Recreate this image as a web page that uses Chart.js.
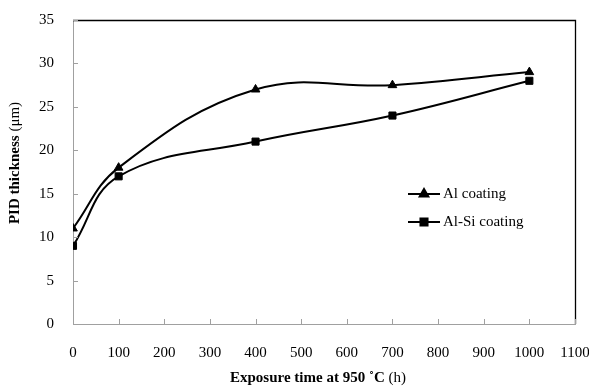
<!DOCTYPE html>
<html>
<head>
<meta charset="utf-8">
<script src="https://cdn.jsdelivr.net/npm/chart.js@4"></script>
<style>
  body { margin: 0; background: #fff; }
</style>
</head>
<body>
<canvas id="myChart" width="589" height="389"></canvas>
<script>
// exposure time (h)
var hours = [0, 100, 400, 700, 1000];
// PID thickness (um)
var alCoating = [11, 18, 27, 27.5, 29];
var alSiCoating = [9, 17, 21, 24, 28];
var seriesNames = ['Al coating', 'Al-Si coating'];
var xTicks = [0, 100, 200, 300, 400, 500, 600, 700, 800, 900, 1000, 1100];
var yTicks = [0, 5, 10, 15, 20, 25, 30, 35];

var serif = "'Liberation Serif', 'Times New Roman', serif";

function toPoints(vals) {
    return hours.map(function (h, i) { return { x: h, y: vals[i] }; });
}

// frame, inner tick marks, axis titles and legend
var extras = {
    id: 'extras',
    afterDraw: function (chart) {
        var c = chart.ctx, a = chart.chartArea;
        var xs = chart.scales.x, ys = chart.scales.y;
        c.save();
        c.strokeStyle = '#000';
        c.lineWidth = 1.3;
        c.beginPath();
        c.moveTo(a.left, a.top + 0.5);
        c.lineTo(a.right + 0.5, a.top + 0.5);
        c.lineTo(a.right + 0.5, a.bottom);
        c.stroke();

        c.strokeStyle = '#a0a0a0';
        c.lineWidth = 1;
        c.beginPath();
        xTicks.forEach(function (t) {
            var px = Math.round(xs.getPixelForValue(t)) + 0.5;
            c.moveTo(px, a.bottom);
            c.lineTo(px, a.bottom - 5);
        });
        yTicks.forEach(function (t) {
            var py = Math.round(ys.getPixelForValue(t)) + 0.5;
            c.moveTo(a.left, py);
            c.lineTo(a.left + 5, py);
        });
        c.stroke();

        // x title
        c.fillStyle = '#000';
        c.textBaseline = 'middle';
        var b1 = 'Exposure time at 950 ˚C ', n1 = '(h)';
        c.font = 'bold 15px ' + serif;
        var w1 = c.measureText(b1).width;
        c.font = '15px ' + serif;
        var w2 = c.measureText(n1).width;
        var sx = 318 - (w1 + w2) / 2;
        c.textAlign = 'left';
        c.font = 'bold 15px ' + serif;
        c.fillText(b1, sx, 378);
        c.font = '15px ' + serif;
        c.fillText(n1, sx + w1, 378);

        // y title
        c.save();
        c.translate(15, 163);
        c.rotate(-Math.PI / 2);
        var b2 = 'PID thickness ', n2 = '(μm)';
        c.font = 'bold 15px ' + serif;
        var w3 = c.measureText(b2).width;
        c.font = '15px ' + serif;
        var w4 = c.measureText(n2).width;
        var sy = -(w3 + w4) / 2;
        c.font = 'bold 15px ' + serif;
        c.fillText(b2, sy, 0);
        c.font = '15px ' + serif;
        c.fillText(n2, sy + w3, 0);
        c.restore();

        // legend
        var rows = [194, 222];
        chart.data.datasets.forEach(function (ds, i) {
            var y = rows[i];
            c.strokeStyle = '#000';
            c.lineWidth = 2;
            c.beginPath();
            c.moveTo(408, y);
            c.lineTo(440, y);
            c.stroke();
            Chart.helpers.drawPoint(c, {
                pointStyle: ds.pointStyle,
                radius: ds.pointRadius,
                borderWidth: 1
            }, 424, y);
            c.fillStyle = '#000';
            c.font = '15px ' + serif;
            c.textAlign = 'left';
            c.fillText(ds.label, 443, y);
        });
        c.restore();
    }
};

var ctx = document.getElementById('myChart').getContext('2d');
var myChart = new Chart(ctx, {
    type: 'line',
    data: {
        datasets: [{
            label: seriesNames[0],
            data: toPoints(alCoating),
            borderColor: '#000',
            backgroundColor: '#000',
            borderWidth: 2,
            tension: 0.4,
            pointStyle: 'triangle',
            pointRadius: 5,
            pointBorderWidth: 1
        }, {
            label: seriesNames[1],
            data: toPoints(alSiCoating),
            borderColor: '#000',
            backgroundColor: '#000',
            borderWidth: 2,
            tension: 0.4,
            pointStyle: 'rect',
            pointRadius: 5,
            pointBorderWidth: 1
        }]
    },
    options: {
        responsive: false,
        animation: false,
        layout: { autoPadding: false, padding: { left: 0, right: 14, top: 20, bottom: 0 } },
        plugins: {
            legend: { display: false },
            tooltip: { enabled: false }
        },
        scales: {
            x: {
                type: 'linear',
                min: 0,
                max: 1100,
                afterFit: function (s) { s.height = 65; s.paddingLeft = 0; s.paddingRight = 0; },
                afterBuildTicks: function (s) {
                    s.ticks = xTicks.map(function (v) { return { value: v }; });
                },
                grid: { display: true, drawOnChartArea: false, drawTicks: false, color: '#a0a0a0' },
                border: { color: '#a0a0a0', width: 1 },
                ticks: {
                    padding: 20,
                    color: '#000',
                    maxRotation: 0,
                    autoSkip: false,
                    callback: function (v) { return String(v); },
                    font: { family: serif, size: 15 }
                }
            },
            y: {
                min: 0,
                max: 35,
                afterFit: function (s) { s.width = 73; s.paddingTop = 0; s.paddingBottom = 0; },
                afterBuildTicks: function (s) {
                    s.ticks = yTicks.map(function (v) { return { value: v }; });
                },
                grid: { display: true, drawOnChartArea: false, drawTicks: false, color: '#a0a0a0' },
                border: { color: '#a0a0a0', width: 1 },
                ticks: {
                    padding: 19,
                    color: '#000',
                    font: { family: serif, size: 15 }
                }
            }
        }
    },
    plugins: [extras]
});
</script>
</body>
</html>
